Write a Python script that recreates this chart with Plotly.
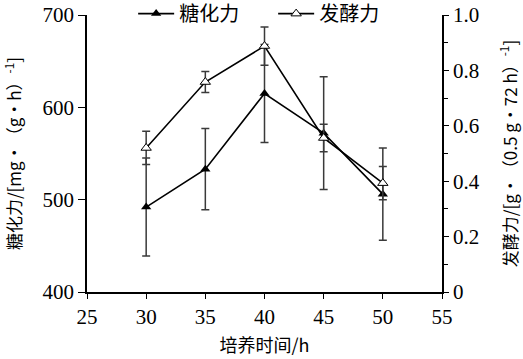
import plotly.graph_objects as go

time_h = [30, 35, 40, 45, 50]
saccharifying = [492, 533, 615, 572, 506]
saccharifying_err = [53, 44, 53, 61, 50]
fermenting = [0.52, 0.758, 0.888, 0.556, 0.393]
fermenting_err = [0.06, 0.038, 0.069, 0.05, 0.06]

y2_tickvals = [0, 0.2, 0.4, 0.6, 0.8, 1.0]
y2_ticktext = ["0", "0.2", "0.4", "0.6", "0.8", "1.0"]

FONT = "Liberation Serif, Times New Roman, Noto Sans CJK SC, serif"
CJK = "Noto Sans CJK SC"
ERR = "#3a3a3a"

fig = go.Figure()
fig.add_trace(go.Scatter(
    x=time_h, y=saccharifying, name="糖化力", mode="lines+markers",
    line=dict(color="black", width=1.6),
    marker=dict(symbol="triangle-up", size=9, color="black"),
    error_y=dict(type="data", array=saccharifying_err, color=ERR, thickness=1.5, width=4),
    yaxis="y",
))
fig.add_trace(go.Scatter(
    x=time_h, y=fermenting, name="发酵力", mode="lines+markers",
    line=dict(color="black", width=1.6),
    marker=dict(symbol="triangle-up", size=9, color="white", line=dict(color="black", width=1)),
    error_y=dict(type="data", array=fermenting_err, color=ERR, thickness=1.5, width=4),
    yaxis="y2",
))

fig.update_layout(
    width=523, height=359,
    margin=dict(l=87, r=81, t=15, b=67, autoexpand=False),
    paper_bgcolor="white", plot_bgcolor="white",
    font=dict(family=FONT, color="black", size=18),
    showlegend=True,
    legend=dict(orientation="h", x=0.13, xanchor="left", y=1.005, yanchor="middle",
                font=dict(size=20, family=CJK), bgcolor="rgba(0,0,0,0)",
                itemwidth=36, entrywidth=89, entrywidthmode="pixels",
                traceorder="normal"),
    xaxis=dict(range=[25, 55], dtick=5, tick0=25, showgrid=False, zeroline=False,
               automargin=False,
               showline=True, linecolor="black", linewidth=1.5,
               ticks="outside", ticklen=5, tickcolor="black", tickwidth=1.2,
               tickfont=dict(size=21, family=FONT),
               title=dict(text="培养时间/h", font=dict(size=18, family=CJK), standoff=11)),
    yaxis=dict(range=[400, 700], dtick=100, showgrid=False, zeroline=False,
               automargin=False,
               showline=True, linecolor="black", linewidth=1.5,
               ticks="outside", ticklen=7, tickcolor="black", tickwidth=1.2,
               tickfont=dict(size=21, family=FONT),
               title=dict(text="糖化力/[mg•（g•h）<sup>-1</sup>]",
                          font=dict(size=17, family=CJK), standoff=29)),
    yaxis2=dict(range=[0, 1.0], overlaying="y", side="right",
                automargin=False,
                tickvals=y2_tickvals, ticktext=y2_ticktext,
                showgrid=False, zeroline=False,
                showline=True, linecolor="black", linewidth=1.5,
                ticks="outside", ticklen=5, tickcolor="black", tickwidth=1.2,
                minor=dict(dtick=0.1, ticks="outside", ticklen=4, tickcolor="black", tickwidth=1.2, showgrid=False),
                tickfont=dict(size=21, family=FONT),
                title=dict(text="发酵力/[g•（0.5 g•72 h）<sup>-1</sup>]",
                           font=dict(size=17, family=CJK), standoff=26)),
)

fig.write_html("out.html", config={"displayModeBar": False},
               post_script="document.body.style.margin='0';")
